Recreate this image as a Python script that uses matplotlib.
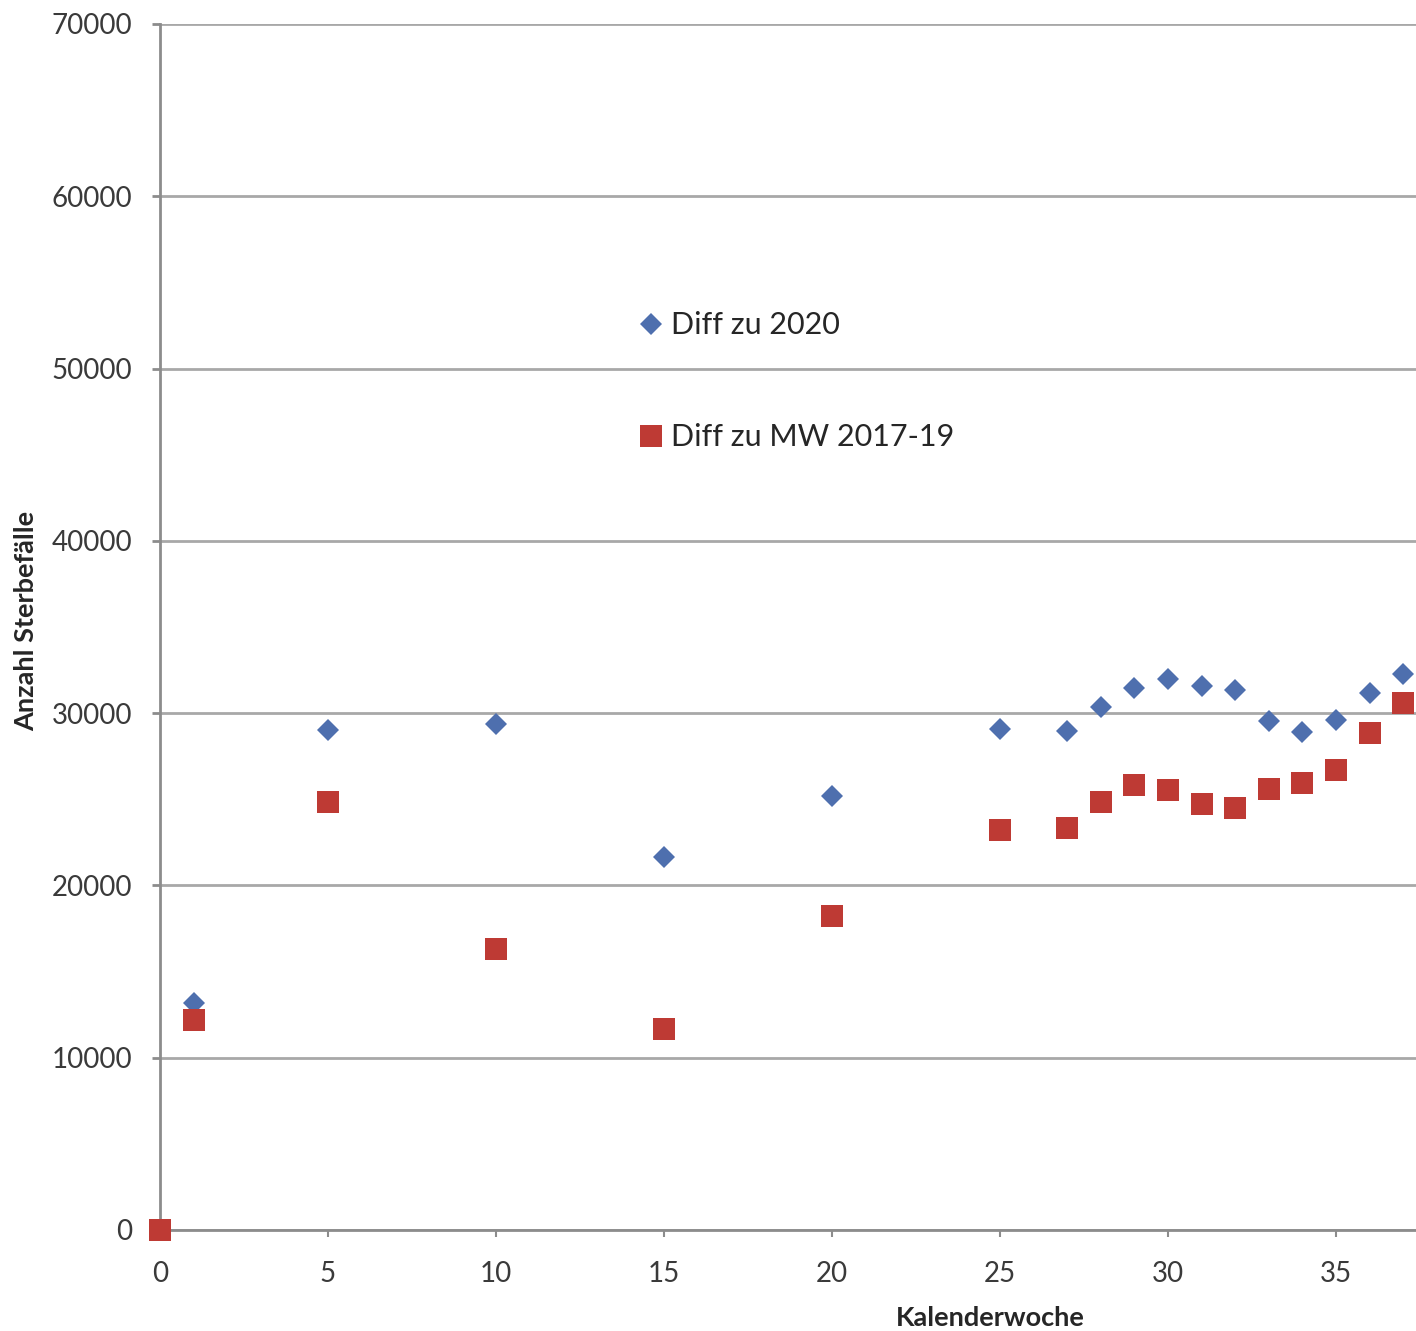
import numpy as np
import matplotlib
matplotlib.use('Agg')
import matplotlib.pyplot as plt

plt.rcParams['font.family'] = ['Lato', 'DejaVu Sans']

# Kalenderwoche and Differenzen der Sterbefälle
weeks = [0, 1, 5, 10, 15, 20, 25, 27, 28, 29, 30, 31, 32, 33, 34, 35, 36, 37]
diff_2020 = [0, 13170, 29020, 29370, 21650, 25190, 29080, 28960, 30350, 31460,
             31980, 31570, 31340, 29540, 28900, 29600, 31170, 32270]
diff_mw = [0, 12190, 24840, 16310, 11670, 18220, 23220, 23330, 24840, 25830,
           25540, 24720, 24490, 25590, 25940, 26700, 28840, 30590]

label_2020 = 'Diff zu 2020'
label_mw = 'Diff zu MW 2017-19'
blue = '#4E6FAE'
red = '#BE3A34'

fig = plt.figure(figsize=(14.16, 13.31), dpi=100)
ax = fig.add_axes([0.113, 0.0759, 0.887, 0.9061])

ax.plot(weeks, diff_2020, linestyle='none', marker='D', markersize=11.5,
        color=blue, markeredgewidth=0, label=label_2020, clip_on=False, zorder=3)
ax.plot(weeks, diff_mw, linestyle='none', marker='s', markersize=15.5,
        color=red, markeredgewidth=0, label=label_mw, clip_on=False, zorder=4)

ax.set_xlim(0, 37.38)
ax.set_ylim(0, 70000)
ax.set_xticks(np.arange(0, 40, 5))
ax.set_yticks(np.arange(0, 70001, 10000))

ax.yaxis.grid(True, color='#a8a8a8', linewidth=2)
ax.set_axisbelow(True)
for s in ['top', 'right']:
    ax.spines[s].set_visible(False)
for s in ['left', 'bottom']:
    ax.spines[s].set_color('#8c8c8c')
    ax.spines[s].set_linewidth(2)

ax.tick_params(axis='y', length=6, width=2, color='#8c8c8c', pad=14,
               labelsize=20, labelcolor='#3a3a3a')
ax.tick_params(axis='x', length=5, width=1.5, color='#8c8c8c', pad=17,
               labelsize=20, labelcolor='#3a3a3a')

ax.set_xlabel('Kalenderwoche', fontsize=19.5, fontweight='bold', color='#262626')
ax.xaxis.set_label_coords(0.661, -0.063)
ax.set_ylabel('Anzahl Sterbefälle', fontsize=19.5, fontweight='bold', color='#262626')
ax.yaxis.set_label_coords(-0.097, 0.505)

ax.legend(loc='center left', bbox_to_anchor=(0.381, 0.7036), frameon=False,
          fontsize=22, handlelength=0.8, handletextpad=0.25, borderpad=0,
          borderaxespad=0, labelspacing=2.75, numpoints=1, markerscale=1.0,
          labelcolor='#262626')

plt.savefig('out.png', dpi=100)
